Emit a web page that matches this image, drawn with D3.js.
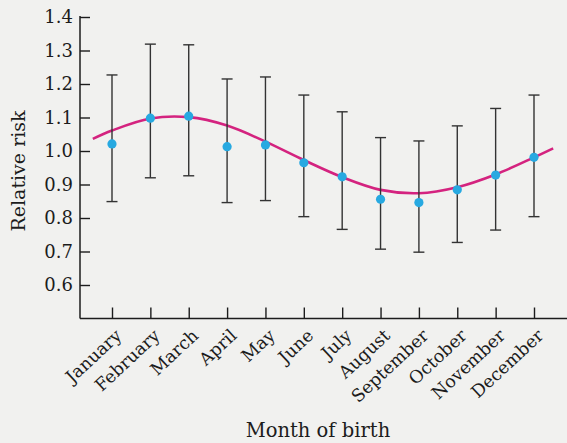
<!DOCTYPE html>
<html lang="en">
<head>
    <meta charset="UTF-8">
    <title>Relative risk by month of birth</title>
    <script src="https://d3js.org/d3.v7.min.js"></script>
    <style>
        body{
            margin: 0;
            background-color: #f1f1ef;
        }
        svg{
            display: block;
            font-family: "DejaVu Serif", serif;
        }
    </style>
</head>
<body>
<svg></svg>
<script>
    const width = 567;
    const height = 443;

    const months = ['January', 'February', 'March', 'April', 'May', 'June',
        'July', 'August', 'September', 'October', 'November', 'December'];
    const risk  = [1.021, 1.098, 1.104, 1.013, 1.018, 0.965, 0.923, 0.856, 0.846, 0.884, 0.928, 0.981];
    const upper = [1.227, 1.319, 1.317, 1.215, 1.221, 1.167, 1.117, 1.040, 1.030, 1.075, 1.127, 1.167];
    const lower = [0.849, 0.920, 0.926, 0.846, 0.852, 0.804, 0.766, 0.707, 0.698, 0.727, 0.764, 0.804];

    /* fitted seasonal curve (month index, risk) */
    const fitMonth = [-0.5, 0, 1, 2, 3, 4, 5, 6, 7, 8, 9, 10, 11, 11.5];
    const fitRisk  = [1.036, 1.061, 1.097, 1.101, 1.076, 1.028, 0.973, 0.922, 0.884, 0.874, 0.892, 0.930, 0.981, 1.008];

    const yTicks = [0.6, 0.7, 0.8, 0.9, 1.0, 1.1, 1.2, 1.3, 1.4];

    const ink = '#1c1c1c';

    const svg = d3.select('svg')
        .attr('width', width)
        .attr('height', height);

    const x = d3.scaleLinear().domain([0, 11]).range([112, 534]);
    const y = d3.scaleLinear().domain([0.5, 1.4]).range([318.5, 17]);

    const axisX0 = 80;
    const axisY0 = y(0.5);

    /* y axis */
    const yAxis = svg.append('g')
        .attr('transform', `translate(${axisX0},0)`)
        .call(d3.axisLeft(y).tickValues(yTicks).tickFormat(d3.format('.1f'))
            .tickSizeInner(-10).tickSizeOuter(0).tickPadding(7));
    yAxis.select('.domain').remove();
    yAxis.selectAll('line').attr('stroke', ink).attr('stroke-width', 1.4);
    yAxis.selectAll('text').attr('font-size', 18).attr('fill', ink)
        .attr('font-family', '"DejaVu Serif", serif');

    svg.append('line')
        .attr('x1', axisX0).attr('x2', axisX0)
        .attr('y1', y(1.4) - 1).attr('y2', axisY0)
        .attr('stroke', ink).attr('stroke-width', 1.5);

    /* x axis */
    const xAxis = svg.append('g')
        .attr('transform', `translate(0,${axisY0})`)
        .call(d3.axisBottom(x).tickValues(d3.range(12)).tickFormat(i => months[i])
            .tickSizeInner(-11).tickSizeOuter(0));
    xAxis.select('.domain').remove();
    xAxis.selectAll('line').attr('stroke', ink).attr('stroke-width', 1.4);
    xAxis.selectAll('text')
        .attr('font-size', 17.5)
        .attr('fill', ink)
        .attr('font-family', '"DejaVu Serif", serif')
        .attr('text-anchor', 'end')
        .attr('x', 0).attr('y', 0).attr('dy', '0.35em')
        .attr('transform', 'translate(6,14) rotate(-43)');

    svg.append('line')
        .attr('x1', axisX0).attr('x2', width)
        .attr('y1', axisY0).attr('y2', axisY0)
        .attr('stroke', ink).attr('stroke-width', 1.5);

    /* axis titles */
    svg.append('text')
        .attr('x', 318).attr('y', 437)
        .attr('text-anchor', 'middle')
        .attr('font-size', 19.5)
        .attr('fill', ink)
        .text('Month of birth');

    svg.append('text')
        .attr('transform', 'translate(25,171) rotate(-90)')
        .attr('text-anchor', 'middle')
        .attr('font-size', 19)
        .attr('fill', ink)
        .text('Relative risk');

    /* fitted curve */
    const line = d3.line()
        .x(d => x(d[0]))
        .y(d => y(d[1]))
        .curve(d3.curveCatmullRom);
    svg.append('path')
        .datum(fitMonth.map((m, i) => [m, fitRisk[i]]))
        .attr('d', line)
        .attr('fill', 'none')
        .attr('stroke', '#d4237f')
        .attr('stroke-width', 2.6);

    /* error bars */
    const capW = 5.5;
    const bars = svg.append('g').selectAll('g')
        .data(d3.range(12))
        .join('g')
        .attr('stroke', '#333')
        .attr('stroke-width', 1.4);
    bars.append('line')
        .attr('x1', i => x(i)).attr('x2', i => x(i))
        .attr('y1', i => y(upper[i])).attr('y2', i => y(lower[i]));
    bars.append('line')
        .attr('x1', i => x(i) - capW).attr('x2', i => x(i) + capW)
        .attr('y1', i => y(upper[i])).attr('y2', i => y(upper[i]));
    bars.append('line')
        .attr('x1', i => x(i) - capW).attr('x2', i => x(i) + capW)
        .attr('y1', i => y(lower[i])).attr('y2', i => y(lower[i]));

    /* points */
    svg.append('g').selectAll('circle')
        .data(d3.range(12))
        .join('circle')
        .attr('cx', i => x(i))
        .attr('cy', i => y(risk[i]))
        .attr('r', 4.6)
        .attr('fill', '#27a9e1');
</script>
</body>
</html>
